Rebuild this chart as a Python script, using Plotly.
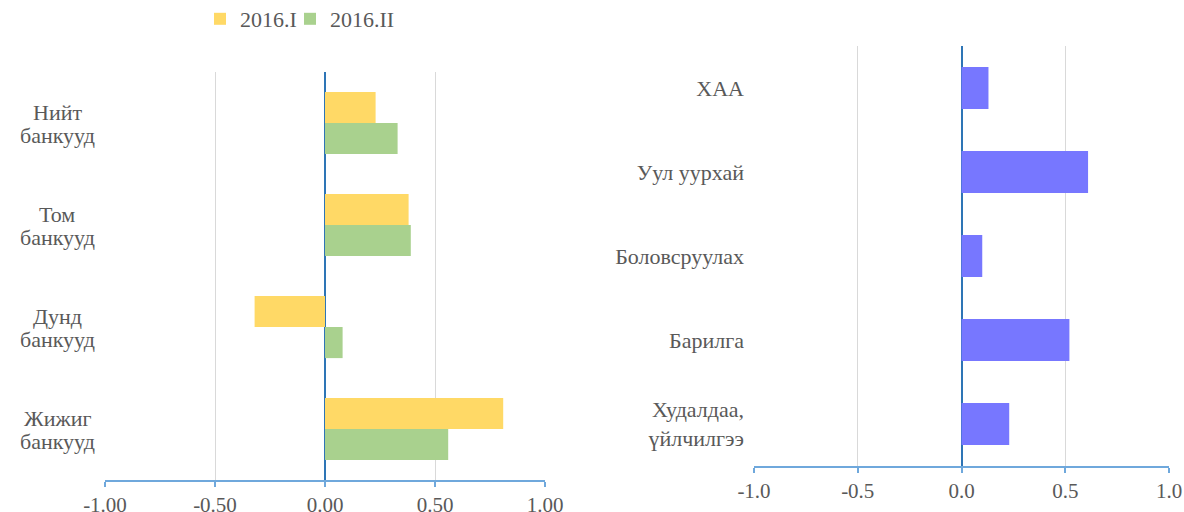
import plotly.graph_objects as go

# ---- data ----
bank_categories = ["Нийт банкууд", "Том банкууд", "Дунд банкууд", "Жижиг банкууд"]
bank_label_lines = [("Нийт", "банкууд"), ("Том", "банкууд"), ("Дунд", "банкууд"), ("Жижиг", "банкууд")]
series_2016_I = [0.23, 0.38, -0.32, 0.81]
series_2016_II = [0.33, 0.39, 0.08, 0.56]

sector_categories = ["ХАА", "Уул уурхай", "Боловсруулах", "Барилга", "Худалдаа,<br>үйлчилгээ"]
sector_values = [0.13, 0.61, 0.10, 0.52, 0.23]

x_ticks = [-1.0, -0.5, 0.0, 0.5, 1.0]
x_ticktext_left = ["-1.00", "-0.50", "0.00", "0.50", "1.00"]
x_ticktext_right = ["-1.0", "-0.5", "0.0", "0.5", "1.0"]

W, H = 1184, 512
FONT = "'Liberation Serif', 'Times New Roman', serif"
FS_TICK = 21
FS_LAB = 22
TXT = "#595959"
AXIS_BLUE = "#6FA8DC"
ZERO_BLUE = "#2E75B6"
GRID = "#D9D9D9"

fig = go.Figure()

fig.add_trace(go.Bar(
    name="2016.I", y=bank_categories, x=series_2016_I, orientation="h",
    marker=dict(color="#FFD966", line=dict(width=0)),
    legendwidth=45,
    xaxis="x", yaxis="y",
))
fig.add_trace(go.Bar(
    name="2016.II", y=bank_categories, x=series_2016_II, orientation="h",
    marker=dict(color="#A9D18E", line=dict(width=0)),
    xaxis="x", yaxis="y",
))
fig.add_trace(go.Bar(
    name="sectors", y=sector_categories, x=sector_values, orientation="h",
    marker=dict(color="#7777FF", line=dict(width=0)),
    width=0.5, showlegend=False,
    xaxis="x2", yaxis="y2",
))

xaxis_common = dict(
    range=[-1, 1], tickvals=x_ticks, automargin=False,
    showgrid=True, gridcolor=GRID, gridwidth=1,
    zeroline=True, zerolinecolor=ZERO_BLUE, zerolinewidth=1.5,
    showline=True, linecolor=AXIS_BLUE, linewidth=2,
    ticks="outside", ticklen=5, tickcolor=AXIS_BLUE, tickwidth=1.5,
    tickfont=dict(family=FONT, size=FS_TICK, color=TXT),
    fixedrange=True,
)

annotations = []
for cat, (l1, l2) in zip(bank_categories, bank_label_lines):
    for txt, shift in ((l1, 11), (l2, -12)):
        annotations.append(dict(
            text=txt, xref="paper", x=57 / W, xanchor="center",
            yref="y", y=cat, yanchor="middle", yshift=shift, align="center",
            showarrow=False, font=dict(family=FONT, size=FS_LAB, color=TXT),
        ))

fig.update_layout(
    width=W, height=H,
    margin=dict(l=0, r=0, t=0, b=0, autoexpand=False),
    paper_bgcolor="white", plot_bgcolor="white",
    barmode="group", bargap=0.39, bargroupgap=0,
    font=dict(family=FONT, size=FS_LAB, color=TXT),
    xaxis=dict(domain=[105 / W, 545 / W], anchor="y",
               ticktext=x_ticktext_left, **xaxis_common),
    yaxis=dict(domain=[32 / H, 440 / H], anchor="x", autorange="reversed", automargin=False,
               showticklabels=False, showgrid=False, zeroline=False, showline=False, ticks=""),
    xaxis2=dict(domain=[754 / W, 1169 / W], anchor="y2",
                ticktext=x_ticktext_right, **xaxis_common),
    yaxis2=dict(domain=[46 / H, 466 / H], anchor="x2", autorange="reversed", automargin=False,
                showgrid=False, zeroline=False, showline=False, ticks="",
                ticklabelstandoff=9,
                tickfont=dict(family=FONT, size=FS_LAB, color=TXT)),
    legend=dict(orientation="h", x=200 / W, xanchor="left", y=1 + 2 / H, yanchor="top",
                font=dict(family=FONT, size=FS_LAB, color=TXT), itemwidth=30,
                tracegroupgap=0, bgcolor="rgba(0,0,0,0)"),
    annotations=annotations,
)

fig.write_html("out.html", post_script="document.body.style.margin='0';",
               config={"displayModeBar": False})
